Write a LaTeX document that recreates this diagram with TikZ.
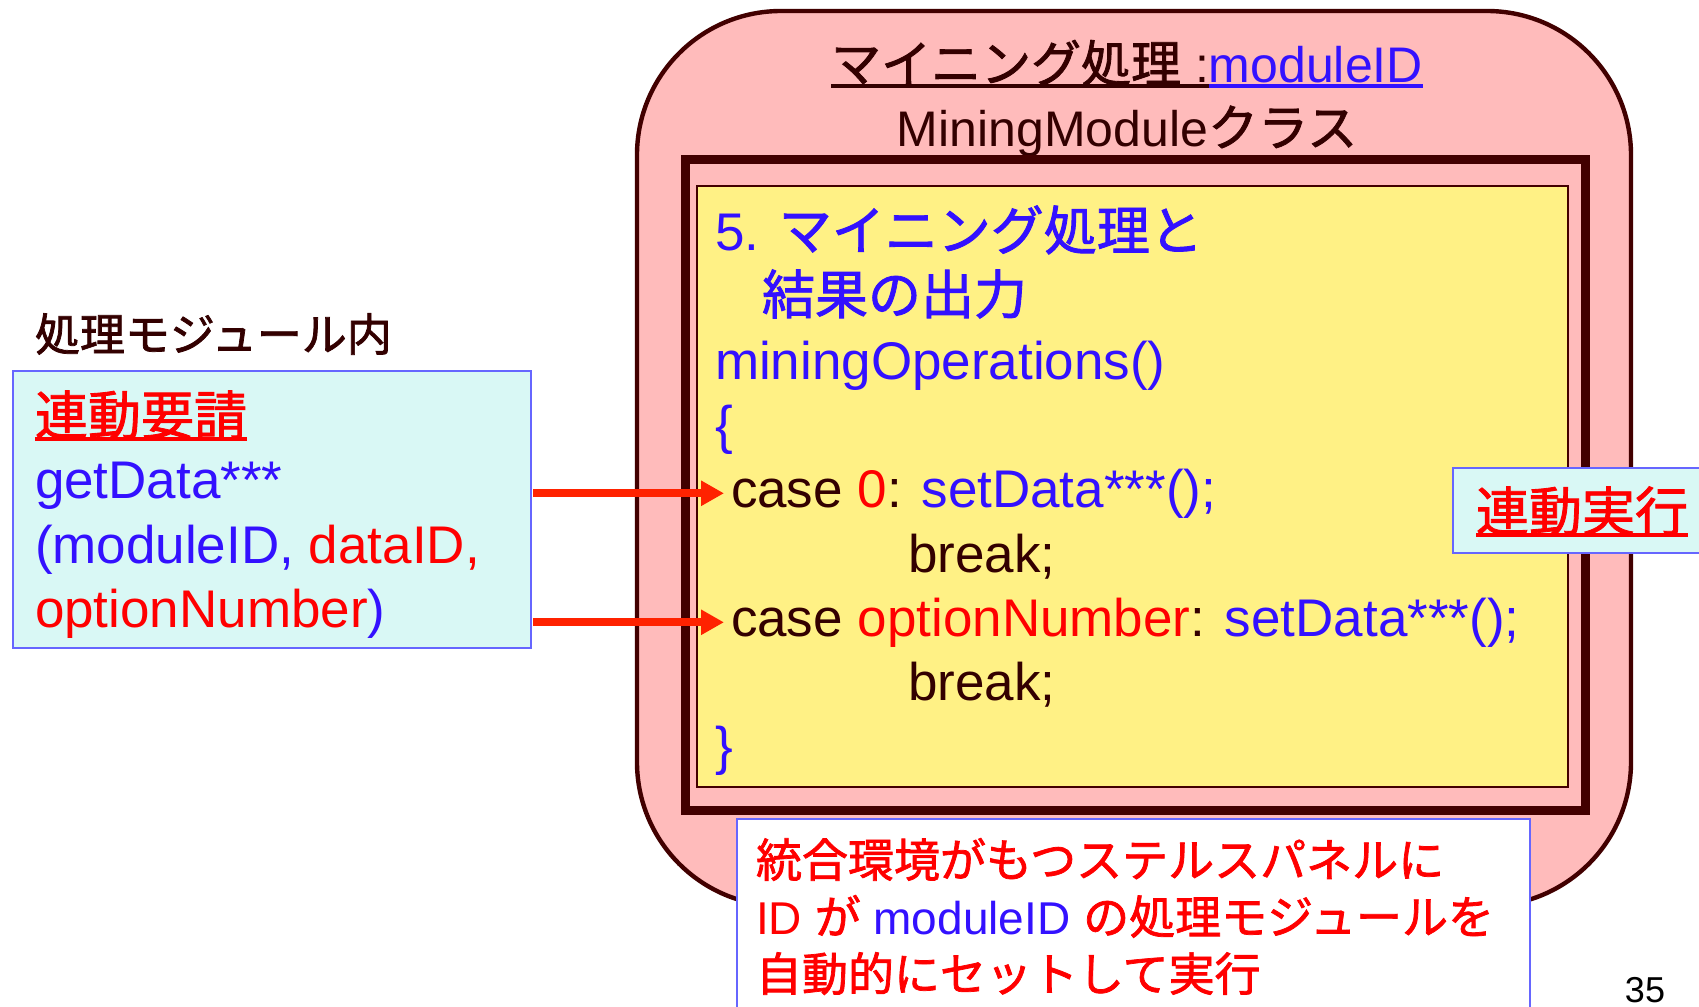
\documentclass[tikz,border=0pt]{standalone}
\usepackage{fontspec}
\setmainfont{Liberation Sans}
\newfontfamily\jp[RawFeature={embolden=1.6}]{Noto Sans CJK JP}
\usetikzlibrary{arrows.meta}

\definecolor{panelpink}{HTML}{FFBBBB}
\definecolor{framebrown}{HTML}{420000}
\definecolor{codeyellow}{HTML}{FFF185}
\definecolor{notecyan}{HTML}{D9F8F5}
\definecolor{noteblue}{HTML}{6666FF}
\definecolor{txtblue}{HTML}{3311FF}
\definecolor{txtred}{HTML}{FF0000}
\definecolor{txtdark}{HTML}{330000}
\definecolor{arrowred}{HTML}{FF2200}

\newcommand\J[1]{{\jp #1}}
\newsavebox\ulbox
\newcommand\ul[1]{\sbox\ulbox{#1}\rlap{\rule[-3pt]{\wd\ulbox}{1.8pt}}\usebox\ulbox}

\begin{document}
\begin{tikzpicture}
[
    x=0.5pt, y=-0.5pt,
    every node/.style={inner sep=0pt, outer sep=0pt},
    big/.style={font=\fontsize{26.5}{32}\selectfont},
    title/.style={font=\fontsize{25}{30}\selectfont, anchor=base, text=txtdark},
    small/.style={font=\fontsize{23}{28}\selectfont},
    line/.style={anchor=base west},
    panel/.style={anchor=north west, draw},
    notebox/.style={panel, draw=noteblue, line width=0.8pt},
    link/.style={draw=arrowred, line width=4pt, -{Triangle[length=11.5pt,width=12pt]},
                 shorten <=1pt, shorten >=3.5pt},
]
\useasboundingbox (0,0) rectangle (1699,1007);
\clip (0,0) rectangle (1699,1007);

% module panel
\node[panel, fill=panelpink, draw=framebrown, line width=2.2pt, rounded corners=72pt,
      minimum width=497pt, minimum height=447.5pt] (module) at (637,11) {};
\node[title] (name) at (1127,82) {{\color{txtdark}\ul{\J{マイニング処理} :}}\textcolor{txtblue}{\ul{moduleID}}};
\node[title] (class) at (1127,146) {MiningModule\J{クラス}};
\node[panel, fill=panelpink, draw=framebrown, line width=4.5pt,
      minimum width=450pt, minimum height=325.5pt] (frame) at (685,159) {};
\node[panel, fill=codeyellow, draw=framebrown, line width=0.8pt,
      minimum width=435.5pt, minimum height=300.5pt] (code) at (697,186) {};

% code lines
\node[big, line, text=txtblue] (l1) at (715,250) {5. \J{マイニング処理と}};
\node[big, line, text=txtblue] (l2) at (762,314) {\J{結果の出力}};
\node[big, line, text=txtblue] (l3) at (715,379) {miningOperations()};
\node[big, line, text=txtblue] (l4) at (715,443) {\{};
\node[big, line, text=txtdark] (c0) at (731,507) {case \textcolor{txtred}{0}: \textcolor{txtblue}{setData***();}};
\node[big, line, text=txtdark] (b0) at (908,572) {break;};
\node[big, line, text=txtdark] (c1) at (731,636) {case \textcolor{txtred}{optionNumber}: \textcolor{txtblue}{setData***();}};
\node[big, line, text=txtdark] (b1) at (908,700) {break;};
\node[big, line, text=txtblue] (l9) at (715,764) {\}};

% caller side
\node[line, font=\fontsize{22.5}{27}\selectfont, text=txtdark] (caption) at (35,351) {\J{処理モジュール内}};
\node[notebox, fill=notecyan, minimum width=259pt, minimum height=138.5pt] (req) at (13,371) {};
\node[big, line, text=txtred] (r1) at (35,435) {\ul{\J{連動要請}}};
\node[big, line, text=txtblue] (r2) at (35,498) {getData***};
\node[big, line, text=txtblue] (r3) at (35,563) {(moduleID, \textcolor{txtred}{dataID,}};
\node[big, line, text=txtred] (r4) at (35,627) {optionNumber\textcolor{txtblue}{)}};

% exec label
\node[notebox, fill=notecyan, minimum width=150pt, minimum height=42.5pt] (exec) at (1453,468) {};
\node[big, line, text=txtred] (execlabel) at (1476,531) {\ul{\J{連動実行}}};

% note below
\node[notebox, fill=white, minimum width=396.5pt, minimum height=150pt] (note) at (737,819) {};
\node[small, line, text=txtred] (n1) at (756,877) {\J{統合環境がもつステルスパネルに}};
\node[small, line, text=txtred] (n2) at (756,934) {ID \J{が} \textcolor{txtblue}{moduleID} \J{の処理モジュールを}};
\node[small, line, text=txtred] (n3) at (756,991) {\J{自動的にセットして実行}};

\node[anchor=base, font=\fontsize{18}{21}\selectfont] (page) at (1645,1002) {35};

% links
\draw[link] (req.east |- c0.west) -- (c0.west);
\draw[link] (req.east |- c1.west) -- (c1.west);
\end{tikzpicture}
\end{document}
